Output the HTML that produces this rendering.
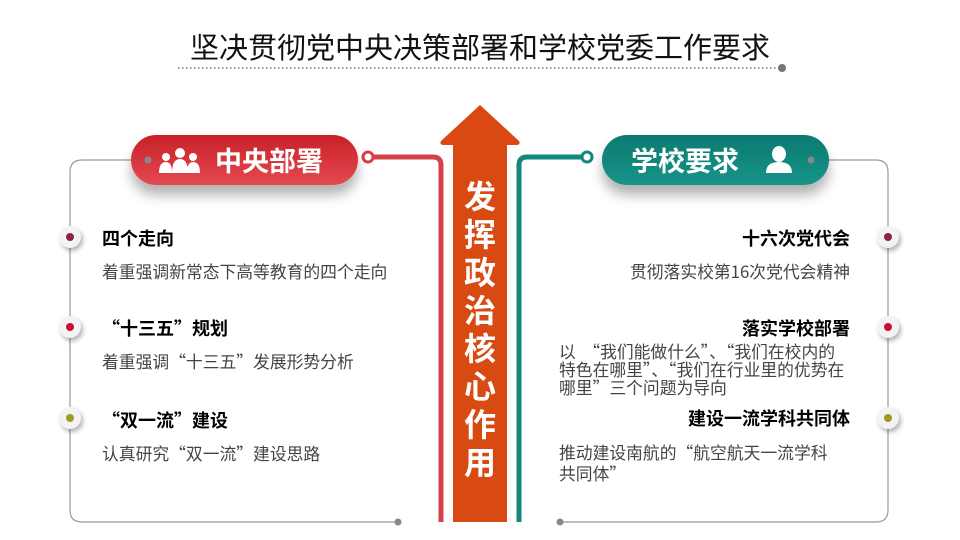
<!DOCTYPE html>
<html><head><meta charset="utf-8"><style>
body{margin:0;width:960px;height:540px;background:#fff;position:relative;overflow:hidden;font-family:"Noto Sans CJK SC","Liberation Sans",sans-serif}
.a{position:absolute;white-space:nowrap}
.h{font-size:18px;font-weight:bold;color:#000;line-height:24px}
.t{font-size:16.8px;color:#444;line-height:20px}
.pill{position:absolute;height:50px;border-radius:25px;box-shadow:0 10px 12px rgba(0,0,0,.3);color:#fff;font-weight:bold;font-size:27px;line-height:50px}
.dot{position:absolute;width:22px;height:22px;border-radius:50%;background:#f3f3f3;box-shadow:2px 3px 5px rgba(0,0,0,.3)}
.dot i{position:absolute;left:7px;top:7px;width:8px;height:8px;border-radius:50%}
</style></head><body>
<svg width="960" height="540" style="position:absolute;left:0;top:0">
<line x1="178" y1="68" x2="782" y2="68" stroke="#777" stroke-width="1.5" stroke-dasharray="1.5 2.5"/>
<circle cx="782" cy="68" r="4" fill="#777"/>
<path d="M147 160 H82 Q70 160 70 172 V510 Q70 522 82 522 H398" fill="none" stroke="#999" stroke-width="1.2"/>
<circle cx="398" cy="522" r="3.5" fill="#888"/>
<path d="M812 160 H876 Q888 160 888 172 V510 Q888 522 876 522 H560" fill="none" stroke="#999" stroke-width="1.2"/>
<circle cx="560" cy="522" r="3.5" fill="#888"/>
<path d="M374 157 H433 Q441 157 441 165 V522" fill="none" stroke="#d6404a" stroke-width="5"/>
<circle cx="368" cy="157" r="5" fill="#fff" stroke="#d6404a" stroke-width="3"/>
<path d="M581 157 H527 Q519 157 519 165 V522" fill="none" stroke="#12877c" stroke-width="5"/>
<circle cx="587" cy="157" r="5" fill="#fff" stroke="#12877c" stroke-width="3"/>
<path d="M480 105 L519 141 Q521 145 516 145 H507 V522 H453 V145 H444 Q439 145 441 141 Z" fill="#d84a12"/>
</svg>
<div class="a" style="left:0;width:960px;top:26px;text-align:center;font-size:29px;line-height:40px;color:#111">坚决贯彻党中央决策部署和学校党委工作要求</div>
<div class="pill" style="left:131px;top:135px;width:227px;background:linear-gradient(#c82028,#e44a50)"><span style="position:absolute;left:84px">中央部署</span>
<svg width="50" height="30" style="position:absolute;left:24px;top:12px"><g fill="#fff"><circle cx="25" cy="6" r="5"/><path d="M17 26 Q17 12 25 12 Q33 12 33 26Z"/><circle cx="11" cy="10" r="4"/><path d="M4 26 Q4 15 11 15 Q17 15 17 26Z"/><circle cx="38" cy="10" r="4"/><path d="M32 26 Q32 15 38 15 Q45 15 45 26Z"/></g></svg></div>
<div class="pill" style="left:602px;top:135px;width:227px;background:linear-gradient(#0b7a70,#179488)"><span style="position:absolute;left:29px">学校要求</span>
<svg width="30" height="30" style="position:absolute;left:162px;top:10px"><g fill="#fff"><ellipse cx="15" cy="9" rx="7" ry="8"/><path d="M2 28 Q2 17 15 17 Q28 17 28 28Z"/></g></svg></div>
<svg width="960" height="540" style="position:absolute;left:0;top:0"><circle cx="148" cy="160" r="3.5" fill="#888"/><circle cx="811" cy="160" r="3.5" fill="#888"/></svg>
<div class="a" style="left:454px;top:176px;width:52px;font-size:32px;line-height:38px;font-weight:bold;color:#fff;white-space:normal;text-align:center">发挥政治核心作用</div>
<div class="dot" style="left:59px;top:226px"><i style="background:#8b2352"></i></div>
<div class="dot" style="left:59px;top:316px"><i style="background:#c8102e"></i></div>
<div class="dot" style="left:59px;top:407px"><i style="background:#a09a20"></i></div>
<div class="dot" style="left:877px;top:226px"><i style="background:#8b2352"></i></div>
<div class="dot" style="left:877px;top:316px"><i style="background:#c8102e"></i></div>
<div class="dot" style="left:877px;top:407px"><i style="background:#a09a20"></i></div>
<div class="a h" style="left:102px;top:226px">四个走向</div>
<div class="a t" style="left:102px;top:261px">着重强调新常态下高等教育的四个走向</div>
<div class="a h" style="left:102px;top:316px">“十三五”规划</div>
<div class="a t" style="left:102px;top:351px">着重强调“十三五”发展形势分析</div>
<div class="a h" style="left:102px;top:408px">“双一流”建设</div>
<div class="a t" style="left:102px;top:443px">认真研究“双一流”建设思路</div>
<div class="a h" style="right:110px;top:226px">十六次党代会</div>
<div class="a t" style="right:110px;top:261px">贯彻落实校第16次党代会精神</div>
<div class="a h" style="right:110px;top:316px">落实学校部署</div>
<div class="a t" style="left:559px;top:342px;line-height:18px">以&nbsp;&nbsp;“我们能做什么”、“我们在校内的<br>特色在哪里”、“我们在行业里的优势在<br>哪里”三个问题为导向</div>
<div class="a h" style="right:110px;top:406px">建设一流学科共同体</div>
<div class="a t" style="left:559px;top:442px;line-height:21px">推动建设南航的“航空航天一流学科<br>共同体”</div>
</body></html>
